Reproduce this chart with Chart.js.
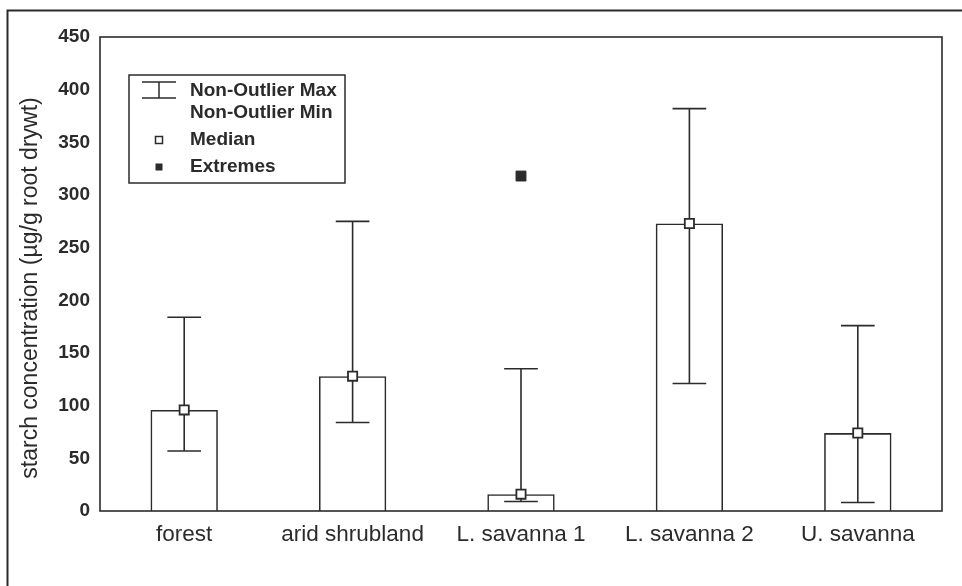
<!DOCTYPE html>
<html>
<head>
<meta charset="utf-8">
<script src="https://cdn.jsdelivr.net/npm/chart.js@4.4.1/dist/chart.umd.min.js"></script>
<style>
  html, body { margin: 0; padding: 0; background: #ffffff; }
  #wrap { width: 962px; height: 586px; position: relative; }
</style>
</head>
<body>
<div id="wrap"><canvas id="c" width="962" height="586"></canvas></div>
<script>
// ---- data ----
const categories = ['forest', 'arid shrubland', 'L. savanna 1', 'L. savanna 2', 'U. savanna'];
const medians    = [96, 128, 16, 273, 74];
const maxValues  = [184, 275, 135, 382, 176];
const minValues  = [57, 84, 9, 121, 8];
const extremes   = [null, null, 318, null, null];
const yTicks     = [0, 50, 100, 150, 200, 250, 300, 350, 400, 450];
const yTitle     = 'starch concentration (µg/g root drywt)';
const legendLabels = ['Non-Outlier Max', 'Non-Outlier Min', 'Median', 'Extremes'];

const INK = '#2b2b2b';
const FONT = "'Liberation Sans', Arial, Helvetica, sans-serif";

// background, outer frame, plot box, y-axis title
const framePlugin = {
  id: 'frame',
  beforeDraw(chart) {
    const ctx = chart.ctx;
    ctx.save();
    ctx.fillStyle = '#ffffff';
    ctx.fillRect(0, 0, chart.width, chart.height);
    ctx.strokeStyle = INK;
    ctx.lineWidth = 2;
    ctx.beginPath();
    ctx.moveTo(7.5, chart.height);
    ctx.lineTo(7.5, 10.5);
    ctx.lineTo(chart.width, 10.5);
    ctx.stroke();
    ctx.restore();
  },
  afterDraw(chart) {
    const ctx = chart.ctx;
    const a = chart.chartArea;
    ctx.save();
    ctx.strokeStyle = INK;
    ctx.lineWidth = 1.6;
    ctx.strokeRect(a.left, a.top, a.right - a.left, a.bottom - a.top);
    // y-axis title
    ctx.translate(31, 288);
    ctx.rotate(-Math.PI / 2);
    ctx.fillStyle = INK;
    ctx.font = '23px ' + FONT;
    ctx.textAlign = 'center';
    ctx.textBaseline = 'middle';
    ctx.fillText(yTitle, 0, 0);
    ctx.restore();
  }
};

// whiskers (non-outlier min/max) drawn through the chart scales
const whiskerPlugin = {
  id: 'whiskers',
  beforeDatasetsDraw(chart) {
    const ctx = chart.ctx;
    const xs = chart.scales.x, ys = chart.scales.y;
    const capHalf = xs.width / categories.length * 0.1;
    ctx.save();
    ctx.strokeStyle = INK;
    ctx.lineWidth = 1.6;
    categories.forEach((c, i) => {
      const x = xs.getPixelForValue(i);
      const yMax = ys.getPixelForValue(maxValues[i]);
      const yMin = ys.getPixelForValue(minValues[i]);
      ctx.beginPath();
      ctx.moveTo(x, yMax); ctx.lineTo(x, yMin);
      ctx.moveTo(x - capHalf, yMax); ctx.lineTo(x + capHalf, yMax);
      ctx.moveTo(x - capHalf, yMin); ctx.lineTo(x + capHalf, yMin);
      ctx.stroke();
    });
    ctx.restore();
  }
};

// legend box inside the plot
const legendPlugin = {
  id: 'boxLegend',
  afterDraw(chart) {
    const ctx = chart.ctx;
    const bx = 129, by = 75, bw = 216, bh = 108;
    ctx.save();
    ctx.fillStyle = '#ffffff';
    ctx.fillRect(bx, by, bw, bh);
    ctx.strokeStyle = INK;
    ctx.lineWidth = 1.5;
    ctx.strokeRect(bx, by, bw, bh);
    const ix = 159;
    // whisker icon
    ctx.beginPath();
    ctx.moveTo(142, 82); ctx.lineTo(176, 82);
    ctx.moveTo(142, 98); ctx.lineTo(176, 98);
    ctx.moveTo(ix, 82); ctx.lineTo(ix, 98);
    ctx.stroke();
    // median icon
    ctx.fillStyle = '#ffffff';
    ctx.lineWidth = 1.5;
    ctx.fillRect(ix - 3.5, 136.5, 7, 7);
    ctx.strokeRect(ix - 3.5, 136.5, 7, 7);
    // extremes icon
    ctx.fillStyle = INK;
    ctx.fillRect(ix - 3.5, 163.5, 7, 7);
    // text
    ctx.fillStyle = INK;
    ctx.font = 'bold 19px ' + FONT;
    ctx.textBaseline = 'middle';
    ctx.textAlign = 'left';
    ctx.fillText(legendLabels[0], 190, 91);
    ctx.fillText(legendLabels[1], 190, 113);
    ctx.fillText(legendLabels[2], 190, 140);
    ctx.fillText(legendLabels[3], 190, 167);
    ctx.restore();
  }
};

new Chart(document.getElementById('c'), {
  data: {
    labels: categories,
    datasets: [
      {
        type: 'bar',
        label: 'Median bar',
        data: medians,
        backgroundColor: 'rgba(255,255,255,0)',
        borderColor: INK,
        borderWidth: 1.6,
        categoryPercentage: 1.0,
        barPercentage: 0.4,
        order: 3
      },
      {
        type: 'line',
        label: 'Median',
        data: medians,
        showLine: false,
        pointStyle: 'rect',
        pointRadius: 6.5,
        pointBackgroundColor: '#ffffff',
        pointBorderColor: INK,
        pointBorderWidth: 1.8,
        order: 1
      },
      {
        type: 'line',
        label: 'Extremes',
        data: extremes,
        showLine: false,
        pointStyle: 'rect',
        pointRadius: 7,
        pointBackgroundColor: INK,
        pointBorderColor: INK,
        pointBorderWidth: 1,
        order: 1
      }
    ]
  },
  options: {
    responsive: false,
    animation: false,
    events: [],
    layout: { padding: { top: 37, right: 20, bottom: 0, left: 0 } },
    plugins: {
      legend: { display: false },
      tooltip: { enabled: false }
    },
    scales: {
      x: {
        type: 'category',
        offset: true,
        grid: { display: false, drawTicks: false },
        border: { display: false },
        ticks: {
          color: INK,
          font: { family: FONT, size: 22.5 },
          padding: 10,
          maxRotation: 0,
          autoSkip: false
        },
        afterFit(scale) { scale.height = 75; }
      },
      y: {
        min: 0,
        max: 450,
        afterBuildTicks(scale) { scale.ticks = yTicks.map(v => ({ value: v })); },
        grid: { display: false, drawTicks: false },
        border: { display: false },
        ticks: {
          color: INK,
          font: { family: FONT, size: 19, weight: 'bold' },
          padding: 10
        },
        title: { display: false },
        afterFit(scale) { scale.width = 100; }
      }
    }
  },
  plugins: [framePlugin, whiskerPlugin, legendPlugin]
});
</script>
</body>
</html>
